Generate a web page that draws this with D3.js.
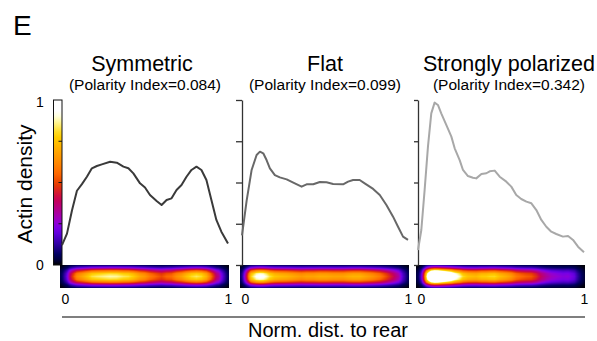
<!DOCTYPE html>
<html>
<head>
<meta charset="utf-8">
<script src="https://cdn.jsdelivr.net/npm/d3@7"></script>
<style>
  body { margin: 0; background: #fff; }
  svg { display: block; font-family: "Liberation Sans", Arial, sans-serif; }
</style>
</head>
<body>
<svg id="chart" width="597" height="341"></svg>
<script>
// ---- data ----
const titles = ["Symmetric", "Flat", "Strongly polarized"];
const polarityIndex = ["0.084", "0.099", "0.342"];

const symX = [0, 0.03, 0.06, 0.09, 0.12, 0.15, 0.18, 0.21, 0.24, 0.29, 0.33, 0.37, 0.40, 0.43, 0.47, 0.50,
  0.53, 0.57, 0.60, 0.63, 0.66, 0.69, 0.72, 0.75, 0.78, 0.81, 0.84, 0.87, 0.90, 0.93, 0.96, 1.0];
const symY = [0.12, 0.19, 0.33, 0.45, 0.49, 0.535, 0.586, 0.60, 0.61, 0.626, 0.62, 0.596, 0.586, 0.555, 0.495, 0.47,
  0.424, 0.388, 0.364, 0.394, 0.404, 0.455, 0.485, 0.535, 0.576, 0.596, 0.576, 0.515, 0.394, 0.273, 0.202, 0.13];

const flatX = [0, 0.028, 0.058, 0.088, 0.108, 0.128, 0.148, 0.168, 0.198, 0.228, 0.269, 0.309, 0.359, 0.389, 0.429,
  0.469, 0.509, 0.549, 0.609, 0.639, 0.669, 0.709, 0.739, 0.790, 0.830, 0.870, 0.910, 0.940, 0.970, 1.0];
const flatY = [0.18, 0.39, 0.576, 0.667, 0.687, 0.677, 0.636, 0.586, 0.545, 0.531, 0.519, 0.499, 0.475, 0.489, 0.489,
  0.503, 0.501, 0.491, 0.489, 0.505, 0.515, 0.515, 0.495, 0.461, 0.424, 0.364, 0.293, 0.232, 0.172, 0.152];

const polX = [0, 0.02, 0.04, 0.06, 0.08, 0.10, 0.12, 0.14, 0.171, 0.201, 0.221, 0.251, 0.271, 0.301, 0.331, 0.351,
  0.382, 0.412, 0.432, 0.462, 0.492, 0.532, 0.562, 0.592, 0.622, 0.653, 0.683, 0.713, 0.743, 0.773, 0.803, 0.833,
  0.873, 0.904, 0.934, 0.964, 1.0];
const polY = [0.091, 0.212, 0.455, 0.717, 0.919, 0.984, 0.97, 0.919, 0.848, 0.778, 0.707, 0.636, 0.576, 0.539, 0.529, 0.525,
  0.552, 0.556, 0.568, 0.572, 0.535, 0.505, 0.475, 0.424, 0.40, 0.384, 0.374, 0.333, 0.273, 0.232, 0.202, 0.188,
  0.172, 0.176, 0.152, 0.111, 0.077];

const yTicks = [0, 0.25, 0.5, 0.75, 1];
const yTickLabels = ["0", "1"];
const xTickLabels = ["0", "1"];
// brightness across the cell width (top to bottom of each kymograph strip)
const cellRows = [0.08, 0.3, 0.68, 0.93, 1, 0.93, 0.68, 0.3, 0.08];
// dimming at the two cell tips (along the strip)
const capPos = [0, 0.025, 0.06, 0.94, 0.975, 1];
const capTaper = [0.25, 0.6, 1, 1, 0.6, 0.25];

// ImageJ "Fire" lookup table
const fireR = [0,0,1,25,49,73,98,122,146,162,173,184,195,207,217,229,240,252,255,255,255,255,255,255,255,255,255,255,255,255,255,255];
const fireG = [0,0,0,0,0,0,0,0,0,0,0,0,0,14,35,57,79,101,117,133,147,161,175,190,205,219,234,248,255,255,255,255];
const fireB = [0,61,96,130,165,192,220,227,210,181,151,122,93,64,35,5,0,0,0,0,0,0,0,0,0,35,98,160,223,255,255,255];

// ---- layout ----
const svg = d3.select("#chart");
const plotTop = 100, plotBottom = 265, heatBottom = 288, plotW = 166;
const panels = [
  { xs: symX, ys: symY, left: 62, color: "#3a3a3a", titleX: 142, subX: 145 },
  { xs: flatX, ys: flatY, left: 242, color: "#686868", titleX: 325, subX: 325 },
  { xs: polX, ys: polY, left: 418, color: "#a8a8a8", titleX: 509, subX: 509 }
];

const y = d3.scaleLinear().domain([0, 1]).range([plotBottom, plotTop]);
const fireDomain = d3.range(32).map(i => i / 31);
const fire = d3.scaleLinear().domain(fireDomain)
  .range(fireR.map((r, i) => d3.rgb(r, fireG[i], fireB[i]).toString())).clamp(true);
const rowScale = d3.scaleLinear().domain(d3.range(cellRows.length).map(i => i / (cellRows.length - 1))).range(cellRows);
const capScale = d3.scaleLinear().domain(capPos).range(capTaper).clamp(true);
const gain = 1.4;

svg.append("text").attr("x", 13).attr("y", 35).attr("font-size", 28).text("E");

svg.append("text")
  .attr("transform", "translate(32,184) rotate(-90)")
  .attr("text-anchor", "middle").attr("font-size", 21).text("Actin density");

// colour bar doubles as y axis of the first panel
const defs = svg.append("defs");
const grad = defs.append("linearGradient").attr("id", "fireGrad")
  .attr("x1", 0).attr("y1", 1).attr("x2", 0).attr("y2", 0);
grad.selectAll("stop").data(fireDomain).join("stop")
  .attr("offset", d => d).attr("stop-color", d => fire(d));

svg.append("rect").attr("x", 53.5).attr("y", plotTop).attr("width", 8.5).attr("height", plotBottom - plotTop)
  .attr("fill", "url(#fireGrad)").attr("stroke", "#111").attr("stroke-width", 1);
svg.append("g").selectAll("line").data(yTicks.slice(1, -1)).join("line")
  .attr("x1", 58.5).attr("x2", 62).attr("y1", d => y(d)).attr("y2", d => y(d))
  .attr("stroke", "#111").attr("stroke-width", 1);
svg.append("g").selectAll("text").data(yTickLabels).join("text")
  .attr("x", 40).attr("y", (d, i) => (i === 0 ? y(0) + 5 : y(1) + 7))
  .attr("text-anchor", "middle").attr("font-size", 14).text(d => d);

panels.forEach((p, k) => {
  const x = d3.scaleLinear().domain([0, 1]).range([p.left, p.left + plotW]);
  const g = svg.append("g");

  g.append("text").attr("x", p.titleX).attr("y", 71).attr("text-anchor", "middle")
    .attr("font-size", 21.5).text(titles[k]);
  g.append("text").attr("x", p.subX).attr("y", 90).attr("text-anchor", "middle")
    .attr("font-size", 15.5).text(`(Polarity Index=${polarityIndex[k]})`);

  // kymograph strip built from the profile
  const prof = d3.scaleLinear().domain(p.xs).range(p.ys).clamp(true);
  const hx0 = p.left - 2, hx1 = p.left + plotW + 1, hh = heatBottom - plotBottom;
  const hx = d3.scaleLinear().domain([hx0, hx1]).range([0, 1]);
  const cells = [];
  for (let c = 0; c < hx1 - hx0; c++) {
    const px = hx0 + c + 0.5;
    const fx = x.invert(px);
    for (let r = 0; r < hh; r++) {
      cells.push({ c, r, v: prof(fx) * capScale(hx(px)) * rowScale((r + 0.5) / hh) * gain });
    }
  }
  g.append("g").attr("shape-rendering", "crispEdges").selectAll("rect").data(cells).join("rect")
    .attr("x", d => hx0 + d.c).attr("y", d => plotBottom + d.r)
    .attr("width", 1.05).attr("height", 1.05).attr("fill", d => fire(d.v));

  if (k > 0) {
    g.append("g").attr("transform", `translate(${p.left},0)`)
      .call(d3.axisLeft(y).tickValues(yTicks).tickSize(k === 1 ? 6 : 4).tickSizeOuter(0).tickFormat(""))
      .call(a => a.selectAll("path,line").attr("stroke", "#333").attr("stroke-width", 1.3));
  }

  const line = d3.line().x((d, i) => x(p.xs[i])).y(d => y(d));
  g.append("path").datum(p.ys).attr("d", line).attr("fill", "none")
    .attr("stroke", p.color).attr("stroke-width", 2).attr("stroke-linejoin", "round");

  g.selectAll(".xl").data(xTickLabels).join("text").attr("class", "xl")
    .attr("x", (d, i) => x(+d) + (i === 0 ? 3.5 : 0.5)).attr("y", 304)
    .attr("text-anchor", "middle").attr("font-size", 14).text(d => d);
});

svg.append("line").attr("x1", 62).attr("x2", 585).attr("y1", 317).attr("y2", 317)
  .attr("stroke", "#555").attr("stroke-width", 1.5);
svg.append("text").attr("x", 328).attr("y", 337).attr("text-anchor", "middle")
  .attr("font-size", 20).text("Norm. dist. to rear");
</script>
</body>
</html>
